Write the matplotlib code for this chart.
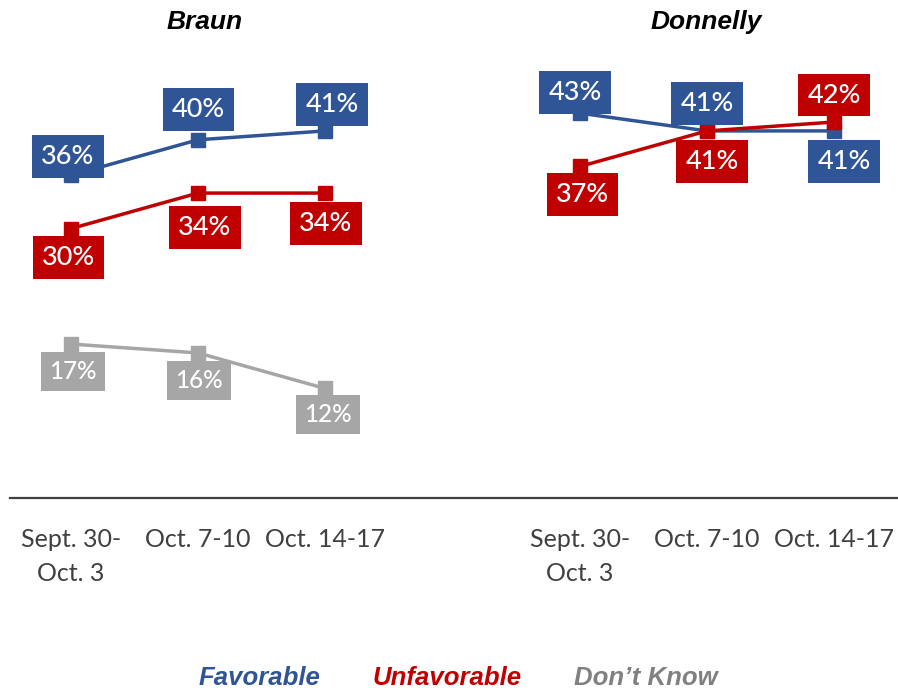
import matplotlib.pyplot as plt
from matplotlib.lines import Line2D

periods = ["Sept. 30-\nOct. 3", "Oct. 7-10", "Oct. 14-17"]

braun_fav = [36, 40, 41]
braun_unf = [30, 34, 34]
braun_dk = [17, 16, 12]

donnelly_fav = [43, 41, 41]
donnelly_unf = [37, 41, 42]

BLUE = "#2F5597"
RED = "#C00000"
GRAY = "#A6A6A6"

# label offsets in pixels (dx, dy downwards) per point
offs = {
    "bf": [(-3, -19), (0, -30), (7, -26)],
    "bu": [(-3, 29), (7, 34), (1, 30)],
    "bd": [(2, 27), (1, 28), (3, 26)],
    "df": [(-5, -21), (0, -27), (10, 31)],
    "du": [(2, 28), (5, 31), (0, -27)],
}

fig = plt.figure(figsize=(8.98, 6.9), dpi=100)
W, H = 898, 690
bottom = (H - 495) / H
height = 444 / H
ax1 = fig.add_axes([7.5 / W, bottom, 381 / W, height])
ax2 = fig.add_axes([516.5 / W, bottom, 381 / W, height])

x = [0, 1, 2]


def draw(ax, vals, color, key, fs=19.5):
    ax.plot(x, vals, color=color, lw=2.5, marker="s", ms=10, zorder=2)
    for i, v in enumerate(vals):
        dx, dy = offs[key][i]
        ax.annotate(f"{v}%", (x[i], v), xytext=(dx, -dy), textcoords="offset pixels",
                    ha="center", va="center", color="white", fontsize=fs,
                    family="Lato", fontweight="medium", zorder=3,
                    bbox=dict(boxstyle="square,pad=0.33", fc=color, ec="none"))


draw(ax1, braun_fav, BLUE, "bf")
draw(ax1, braun_unf, RED, "bu")
draw(ax1, braun_dk, GRAY, "bd", fs=17.5)
draw(ax2, donnelly_fav, BLUE, "df")
draw(ax2, donnelly_unf, RED, "du")

for ax in (ax1, ax2):
    ax.set_xlim(-0.5, 2.5)
    ax.set_ylim(0, 50)
    for s in ax.spines.values():
        s.set_visible(False)
    ax.set_yticks([])
    ax.set_xticks(x)
    ax.set_xticklabels(periods, fontsize=18, color="#404040", family="Lato",
                       linespacing=1.55, va="top")
    ax.tick_params(axis="x", length=0, pad=24)

fig.text(205 / W, 1 - 22 / H, "Braun", ha="center", va="center", fontsize=19,
         fontweight="bold", fontstyle="italic", family="Liberation Sans")
fig.text(706 / W, 1 - 22 / H, "Donnelly", ha="center", va="center", fontsize=19,
         fontweight="bold", fontstyle="italic", family="Liberation Sans")

fig.add_artist(Line2D([10 / W, 1], [1 - 498 / H, 1 - 498 / H], color="#404040", lw=1.6,
                      transform=fig.transFigure))

for xc, txt, col in [(259, "Favorable", BLUE), (447, "Unfavorable", RED),
                     (646, "Don\u2019t Know", "#808080")]:
    fig.text(xc / W, 1 - 678 / H, txt, ha="center", va="center", fontsize=18.5, color=col,
             fontweight="bold", fontstyle="italic", family="Liberation Sans")

fig.savefig("out.png", dpi=100)
